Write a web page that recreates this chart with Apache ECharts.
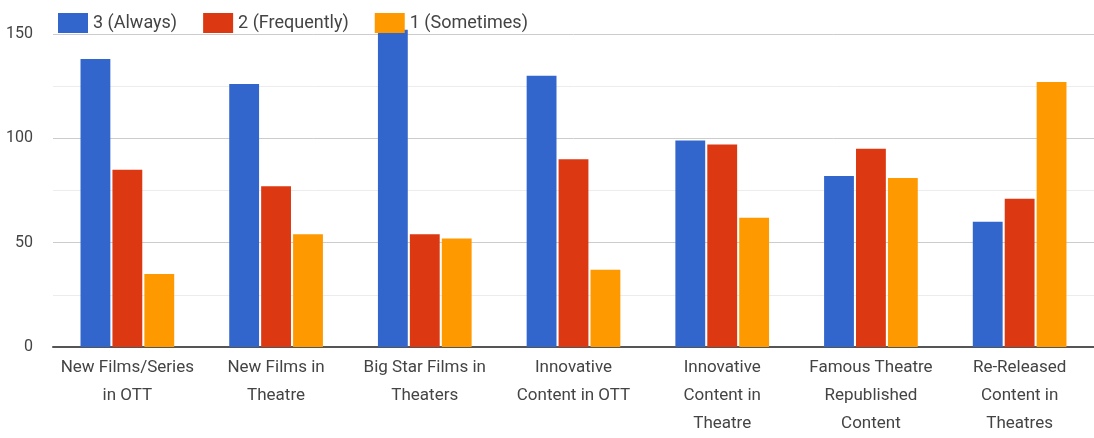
<!DOCTYPE html>
<html>
<head>
<meta charset="utf-8">
<title>Content preference ratings</title>
<script src="https://cdn.jsdelivr.net/npm/echarts@6/dist/echarts.min.js"></script>
<style>
  html, body { margin: 0; padding: 0; background: #fff; }
  #chart { width: 1094px; height: 438px; }
</style>
</head>
<body>
<div id="chart"></div>
<script>
// Categories (line breaks as shown under the axis)
const categories = [
  'New Films/Series\nin OTT',
  'New Films in\nTheatre',
  'Big Star Films in\nTheaters',
  'Innovative\nContent in OTT',
  'Innovative\nContent in\nTheatre',
  'Famous Theatre\nRepublished\nContent',
  'Re-Released\nContent in\nTheatres'
];

// Number of responses per rating
const always     = [138, 126, 152, 130, 99, 82, 60];
const frequently = [85, 77, 54, 90, 97, 95, 71];
const sometimes  = [35, 54, 52, 37, 62, 81, 127];

const seriesNames = ['3 (Always)', '2 (Frequently)', '1 (Sometimes)'];
const yTicks = [0, 50, 100, 150];

const FONT = "Roboto, 'Liberation Sans', sans-serif";
const colors = ['#3366cc', '#dc3912', '#ff9900'];

const chart = echarts.init(document.getElementById('chart'), null, { renderer: 'canvas' });

function bar(name, data, color) {
  return {
    name: name,
    type: 'bar',
    data: data,
    clip: false,
    barCategoryGap: '37%',
    barGap: '7%',
    itemStyle: { color: color },
    emphasis: { disabled: true }
  };
}

chart.setOption({
  animation: false,
  color: colors,
  textStyle: { fontFamily: FONT },
  legend: {
    left: 53,
    top: 8,
    icon: 'rect',
    itemWidth: 30,
    itemHeight: 20,
    itemGap: 26,
    textStyle: { fontFamily: FONT, fontSize: 18, color: '#444' },
    data: seriesNames
  },
  grid: { left: 53, right: 0, top: 34, bottom: 87, containLabel: false },
  xAxis: {
    type: 'category',
    data: categories,
    axisTick: { show: false },
    axisLine: { lineStyle: { color: '#555', width: 2 } },
    axisLabel: {
      interval: 0,
      margin: 7,
      fontFamily: FONT,
      fontSize: 17,
      lineHeight: 28,
      color: '#444',
      verticalAlign: 'top'
    }
  },
  yAxis: {
    type: 'value',
    min: yTicks[0],
    max: yTicks[yTicks.length - 1],
    interval: 50,
    axisLine: { show: false },
    axisTick: { show: false },
    axisLabel: { fontFamily: FONT, fontSize: 16, color: '#444', margin: 20 },
    splitLine: { lineStyle: { color: '#cccccc', width: 1 } },
    minorTick: { show: false, splitNumber: 2 },
    minorSplitLine: { show: true, lineStyle: { color: '#ececec', width: 1 } }
  },
  series: [
    bar(seriesNames[0], always, colors[0]),
    bar(seriesNames[1], frequently, colors[1]),
    bar(seriesNames[2], sometimes, colors[2])
  ]
});
</script>
</body>
</html>
